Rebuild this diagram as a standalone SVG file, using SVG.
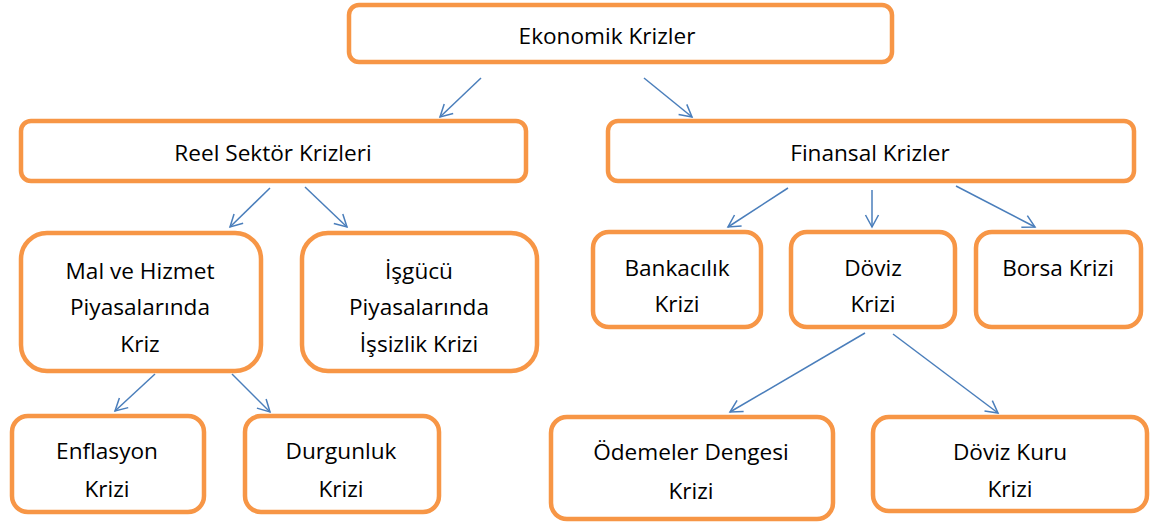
<svg xmlns="http://www.w3.org/2000/svg" width="1151" height="525" viewBox="0 0 1151 525">
<style>
.box{fill:#ffffff;stroke:#F79646;stroke-width:4.5}
.t{font-family:"Open Sans","Liberation Sans",sans-serif;font-size:22.6px;fill:#000;text-anchor:middle;dominant-baseline:central}
.c{stroke:#4A7EBB;stroke-width:1.5;fill:none;marker-end:url(#ah)}
</style>
<defs>
<marker id="ah" markerUnits="userSpaceOnUse" markerWidth="16" markerHeight="16" refX="13" refY="8" orient="auto">
<path d="M1,1.5 L13,8 L1,14.5" fill="none" stroke="#4A7EBB" stroke-width="1.5"/>
</marker>
</defs>
<rect width="1151" height="525" fill="#ffffff"/>
<g id="connectors">
<line class="c" x1="481" y1="78" x2="440" y2="117"/>
<line class="c" x1="644" y1="78" x2="692" y2="117"/>
<line class="c" x1="270" y1="188" x2="230" y2="227"/>
<line class="c" x1="305" y1="187" x2="347" y2="227"/>
<line class="c" x1="788" y1="188" x2="728" y2="227"/>
<line class="c" x1="872" y1="190" x2="872" y2="227"/>
<line class="c" x1="956" y1="186" x2="1035" y2="227"/>
<line class="c" x1="155" y1="374" x2="115" y2="411"/>
<line class="c" x1="232" y1="374" x2="270" y2="412"/>
<line class="c" x1="865" y1="333" x2="730" y2="412"/>
<line class="c" x1="893" y1="334" x2="998" y2="413"/>
</g>
<g id="ekonomik">
<rect class="box" x="349" y="5" width="543" height="57" rx="10"/>
<text class="t" x="607" y="35">Ekonomik Krizler</text>
</g>
<g id="reel">
<rect class="box" x="21" y="121" width="505" height="60" rx="10"/>
<text class="t" x="273" y="152">Reel Sektör Krizleri</text>
</g>
<g id="finansal">
<rect class="box" x="608" y="121" width="526" height="60" rx="10"/>
<text class="t" x="870" y="152">Finansal Krizler</text>
</g>
<g id="mal">
<rect class="box" x="21" y="233" width="240" height="138" rx="26"/>
<text class="t" x="140" y="270">Mal ve Hizmet</text>
<text class="t" x="140" y="306">Piyasalarında</text>
<text class="t" x="140" y="343">Kriz</text>
</g>
<g id="isgucu">
<rect class="box" x="302" y="233" width="235" height="138" rx="26"/>
<text class="t" x="419" y="270">İşgücü</text>
<text class="t" x="419" y="306">Piyasalarında</text>
<text class="t" x="419" y="343">İşsizlik Krizi</text>
</g>
<g id="bankacilik">
<rect class="box" x="593" y="232" width="168" height="95" rx="16"/>
<text class="t" x="677" y="267">Bankacılık</text>
<text class="t" x="677" y="303">Krizi</text>
</g>
<g id="doviz">
<rect class="box" x="791" y="232" width="164" height="95" rx="16"/>
<text class="t" x="873" y="267">Döviz</text>
<text class="t" x="873" y="303">Krizi</text>
</g>
<g id="borsa">
<rect class="box" x="976" y="232" width="165" height="95" rx="16"/>
<text class="t" x="1058" y="267">Borsa Krizi</text>
</g>
<g id="enflasyon">
<rect class="box" x="12" y="416" width="192" height="96" rx="16"/>
<text class="t" x="107" y="450">Enflasyon</text>
<text class="t" x="107" y="488">Krizi</text>
</g>
<g id="durgunluk">
<rect class="box" x="245" y="416" width="194" height="96" rx="16"/>
<text class="t" x="341" y="450">Durgunluk</text>
<text class="t" x="341" y="488">Krizi</text>
</g>
<g id="odemeler">
<rect class="box" x="551" y="417" width="282" height="102" rx="16"/>
<text class="t" x="691" y="451">Ödemeler Dengesi</text>
<text class="t" x="691" y="490">Krizi</text>
</g>
<g id="dovizkuru">
<rect class="box" x="873" y="417" width="274" height="94" rx="16"/>
<text class="t" x="1010" y="451">Döviz Kuru</text>
<text class="t" x="1010" y="488">Krizi</text>
</g>
</svg>
